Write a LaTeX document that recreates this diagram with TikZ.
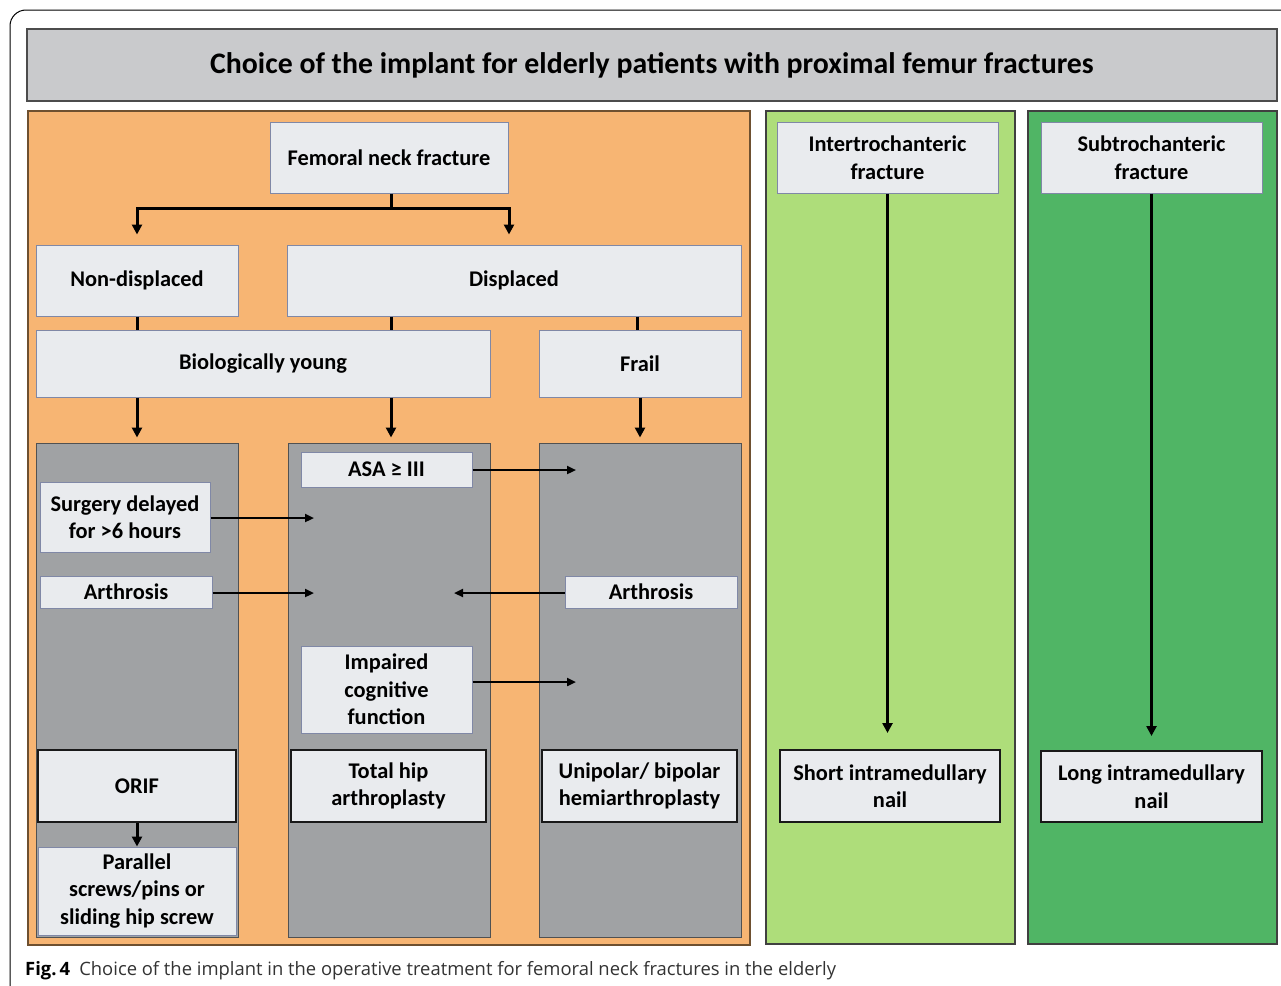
\documentclass[tikz,border=0pt]{standalone}
\usepackage{fontspec}
\setmainfont{Carlito}
\newfontfamily\capfont{Open Sans}
\usetikzlibrary{arrows.meta}
\definecolor{orangebg}{HTML}{F7B573}
\definecolor{lgreen}{HTML}{AEDD7A}
\definecolor{dgreen}{HTML}{50B565}
\definecolor{colgray}{HTML}{A0A2A4}
\definecolor{boxfill}{HTML}{E9EBEE}
\definecolor{boxedge}{HTML}{8088A6}
\definecolor{titlegray}{HTML}{C9CACC}
\definecolor{brownedge}{HTML}{6E5030}
\begin{document}
\begin{tikzpicture}[x=1pt,y=-1pt,
  panel/.style={draw=brownedge, line width=1.5pt, inner sep=0pt},
  col/.style={draw=colgray!50!black, fill=colgray, line width=1pt, inner sep=0pt},
  box/.style={draw=boxedge, fill=boxfill, line width=1pt, inner sep=0pt, align=center,
     font=\fontsize{22.4}{27.5}\selectfont\bfseries},
  rbox/.style={box, draw=black!90, line width=2pt},
  conn/.style={line width=3pt, black},
  arr/.style={conn, -{Triangle[length=10pt,width=10pt]}},
  harr/.style={line width=2.2pt, black, -{Triangle[length=9pt,width=8pt]}}
]
\useasboundingbox (0,0) rectangle (1281,985);
\fill[white] (0,0) rectangle (1281,985);
% outer frame
\draw[line width=1pt, rounded corners=16pt] (1300,10) -- (10,10) -- (10,1010);
% title bar
\node[draw=black!70, fill=titlegray, line width=2pt, minimum width=1250pt, minimum height=72pt, inner sep=0pt,
  font=\fontsize{29.8}{34}\selectfont\bfseries] (title) at (652,65)
  {Choice of the implant for elderly patients with proximal femur fractures};
% panels
\node[panel, fill=orangebg, minimum width=722pt, minimum height=834pt] (orange) at (389,528) {};
\node[panel, draw=black!75, fill=lgreen, minimum width=249pt, minimum height=833pt] (lg) at (890.5,527.5) {};
\node[panel, draw=black!75, fill=dgreen, minimum width=249pt, minimum height=833pt] (dg) at (1152.5,527.5) {};
% gray columns
\node[col, minimum width=202pt, minimum height=494pt] (col1) at (137,690) {};
\node[col, minimum width=202pt, minimum height=494pt] (col2) at (389,690) {};
\node[col, minimum width=202pt, minimum height=494pt] (col3) at (640,690) {};
% boxes
\node[box, minimum width=238pt, minimum height=71pt] (fnf) at (389,157.5) {Femoral neck fracture};
\node[box, minimum width=202pt, minimum height=71pt] (nd) at (137,280.5) {Non-displaced};
\node[box, minimum width=454pt, minimum height=71pt] (disp) at (514,280.5) {Displaced};
\node[box, minimum width=454pt, minimum height=67pt] (by) at (263,363.5) {Biologically young};
\node[box, minimum width=202pt, minimum height=67pt] (frail) at (640,363.5) {Frail};
\node[box, minimum width=171pt, minimum height=35pt] (asa) at (386.5,469.5) {ASA ≥ III};
\node[box, minimum width=170pt, minimum height=70pt] (sd) at (125,517) {Surgery delayed\\for >6 hours};
\node[box, minimum width=172pt, minimum height=32pt] (arl) at (126,592) {Arthrosis};
\node[box, minimum width=172pt, minimum height=32pt] (arr) at (651,592) {Arthrosis};
\node[box, minimum width=171pt, minimum height=87pt] (icf) at (386.5,689.5) {Impaired\\cognitive\\function};
\node[rbox, minimum width=198pt, minimum height=72pt] (orif) at (137,786) {ORIF};
\node[rbox, minimum width=195pt, minimum height=72pt] (tha) at (388.5,786) {Total hip\\arthroplasty};
\node[rbox, minimum width=195pt, minimum height=72pt] (uni) at (639.5,786) {Unipolar/ bipolar\\hemiarthroplasty};
\node[box, minimum width=198pt, minimum height=88pt] (par) at (137,891) {Parallel\\screws/pins or\\sliding hip screw};
\node[box, minimum width=221pt, minimum height=71pt] (itf) at (887.5,157.5) {Intertrochanteric\\fracture};
\node[box, minimum width=221pt, minimum height=71pt] (stf) at (1151.5,157.5) {Subtrochanteric\\fracture};
\node[rbox, minimum width=220pt, minimum height=72pt] (sin) at (890,786) {Short intramedullary\\nail};
\node[rbox, minimum width=221pt, minimum height=71pt] (lin) at (1151.5,786.5) {Long intramedullary\\nail};
% connectors
\coordinate (j) at (391,208);
\draw[conn] (fnf.south -| j) -- (j);
\draw[arr] (j) -| ([yshift=10pt]nd.north);
\draw[arr] (j) -| ([xshift=-5pt,yshift=10pt]disp.north);
\draw[conn] (nd.south) -- (nd.south |- by.north);
\draw[conn] (disp.south -| j) -- (by.north -| j);
\draw[conn] ([xshift=-3pt]frail.north |- disp.south) -- ([xshift=-3pt]frail.north);
\draw[arr] (col1.north |- by.south) -- ([yshift=5pt]col1.north);
\draw[arr] (by.south -| j) -- ([yshift=5pt]col2.north -| j);
\draw[arr] (frail.south) -- ([yshift=5pt]col3.north);
\coordinate (asaT) at (576,470);
\draw[harr] (asa.east |- asaT) -- (asaT);
\coordinate (sdT) at (314,518);
\draw[harr] (sd.east |- sdT) -- (sdT);
\coordinate (arlT) at (314,593);
\draw[harr] (arl.east |- arlT) -- (arlT);
\coordinate (arrT) at (454,593);
\draw[harr] (arr.west |- arrT) -- (arrT);
\coordinate (icfT) at (576,682);
\draw[harr] (icf.east |- icfT) -- (icfT);
\draw[arr] (orif.south) -- (par.north);
\draw[arr] (itf.south) -- ([yshift=16pt]sin.north -| itf.south);
\draw[arr] (stf.south) -- ([yshift=14pt]lin.north -| stf.south);
% caption
\node[anchor=base west, inner sep=0pt, font=\capfont\fontsize{18.4}{20}\selectfont] (cap) at (25,975)
  {\textbf{Fig.\,4}\enspace\textcolor{black!80}{Choice of the implant in the operative treatment for femoral neck fractures in the elderly}};
\end{tikzpicture}
\end{document}
